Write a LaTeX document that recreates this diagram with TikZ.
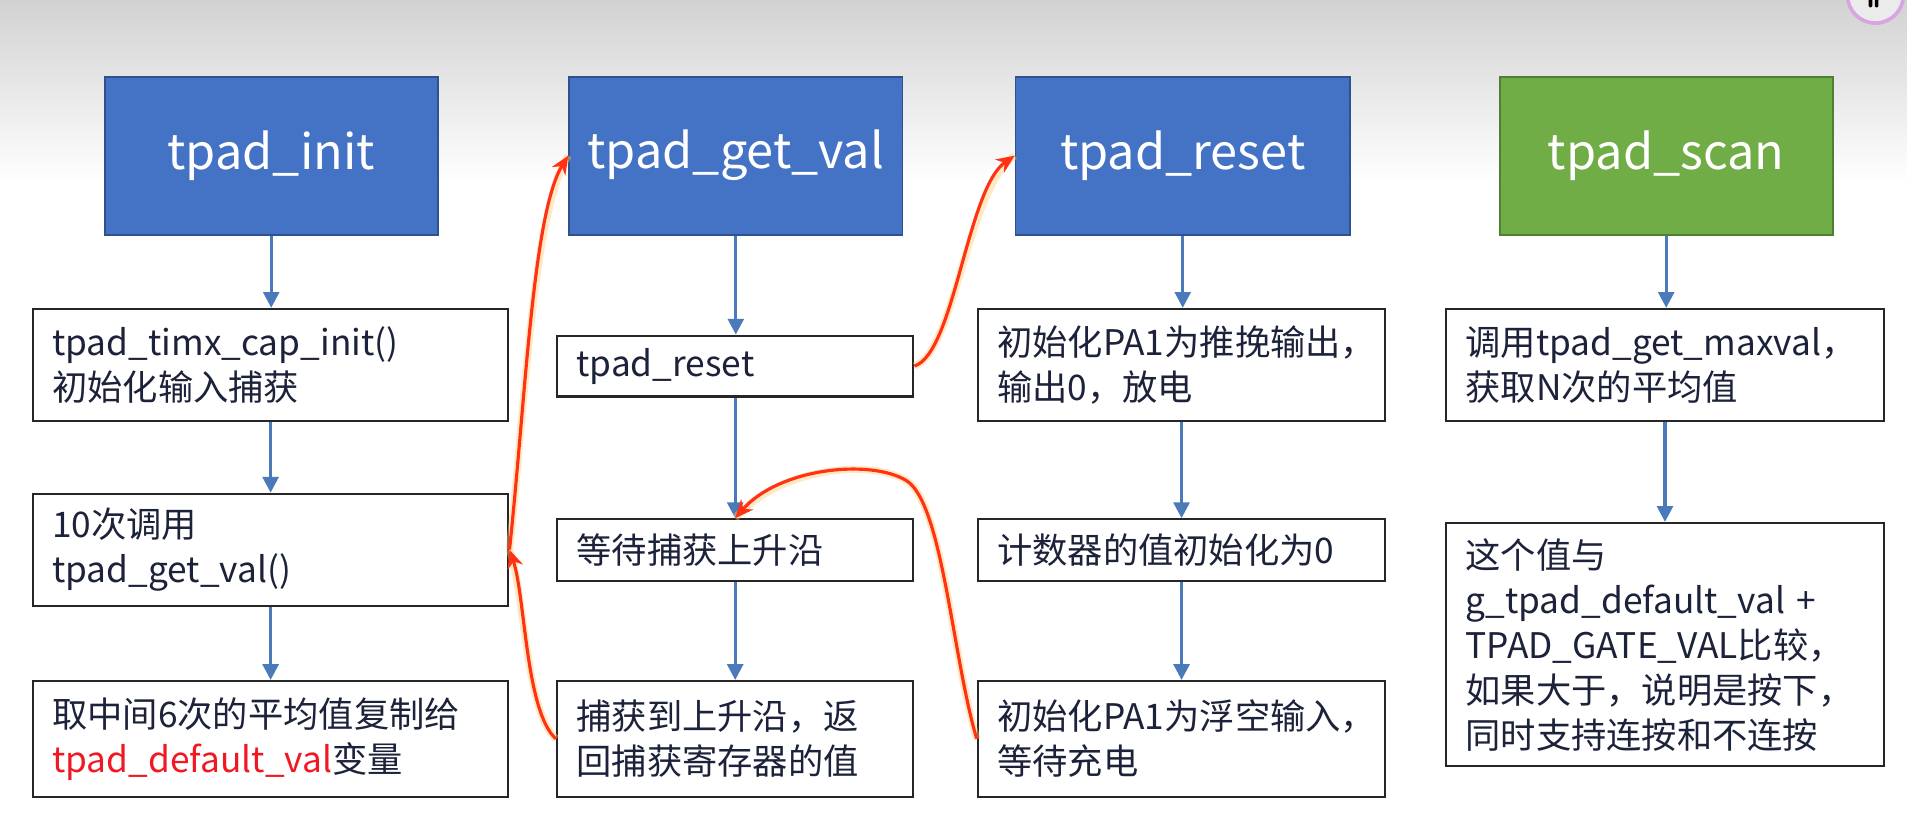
\documentclass[tikz,border=0pt]{standalone}
\usepackage{fontspec}
\setmainfont{Noto Sans CJK SC}
\usetikzlibrary{arrows.meta}
\definecolor{hdrblue}{RGB}{68,114,196}
\definecolor{hdrblueb}{RGB}{47,82,143}
\definecolor{hdrgreen}{RGB}{112,173,71}
\definecolor{hdrgreenb}{RGB}{80,126,50}
\definecolor{arrblue}{RGB}{74,122,186}
\definecolor{txt}{RGB}{28,34,58}
\definecolor{redl}{RGB}{255,50,20}
\definecolor{halo}{RGB}{255,205,120}
\definecolor{redtxt}{RGB}{240,25,35}
\definecolor{bgtop}{RGB}{210,210,210}
\definecolor{ringc}{RGB}{215,165,225}
\begin{document}
\begin{tikzpicture}[x=1pt,y=-1pt,
  hdr/.style={draw=hdrblueb, line width=1.5, fill=hdrblue, minimum width=274pt,
    minimum height=130pt, text=white, font=\fontsize{40}{48}\selectfont, inner sep=0pt},
  hdrg/.style={hdr, draw=hdrgreenb, fill=hdrgreen},
  bx/.style={draw=black!85, line width=1.8, fill=white, inner xsep=16pt, inner ysep=0pt,
    align=left, text=txt, font=\fontsize{29}{37}\selectfont},
  flow/.style={draw=arrblue, line width=2.6, -{Triangle[length=13pt,width=13pt]}},
  jump/.style={draw=redl, line width=2.6, -{Stealth[length=15pt,width=13pt]}},
  haloline/.style={draw=halo, line width=6, opacity=.45}
]
\useasboundingbox (0,0) rectangle (1568,685.7);
\fill[white] (0,0) rectangle (1568,685.7);
\shade[top color=bgtop, bottom color=white] (0,0) rectangle (1568,150);
% top-right icon
\draw[ringc, line width=3, fill=white!92!black] (1542,-4) circle (23);
\fill[black, rounded corners=1pt] (1536.5,-1) rectangle (1539.5,6);
\fill[black, rounded corners=1pt] (1541.5,-1) rectangle (1544.5,6);

% headers
\node[hdr] (h1) at (223,128) {tpad\_init};
\node[hdr] (h2) at (605,128) {tpad\_get\_val};
\node[hdr, minimum width=275pt] (h3) at (972.5,128) {tpad\_reset};
\node[hdrg] (h4) at (1370,128) {tpad\_scan};

% column 1
\node[bx, text width=359pt, minimum height=92pt] (a1) at (222.5,300)
  {tpad\_timx\_cap\_init()\\初始化输入捕获};
\node[bx, text width=359pt, minimum height=92pt] (a2) at (222.5,452)
  {10次调用\\tpad\_get\_val()};
\node[bx, text width=359pt, minimum height=95pt] (a3) at (222.5,607.5)
  {取中间6次的平均值复制给\\\textcolor{redtxt}{tpad\_default\_val}变量};
% column 2
\node[bx, text width=261pt, minimum height=50pt] (b1) at (604.5,301) {tpad\_reset};
\node[bx, text width=261pt, minimum height=51pt] (b2) at (604.5,452.5) {等待捕获上升沿};
\node[bx, text width=261pt, minimum height=95pt] (b3) at (604.5,607.5)
  {捕获到上升沿，返\\回捕获寄存器的值};
% column 3
\node[bx, text width=303pt, minimum height=92pt] (c1) at (971.5,300)
  {初始化PA1为推挽输出，\\输出0，放电};
\node[bx, text width=303pt, minimum height=51pt] (c2) at (971.5,452.5) {计数器的值初始化为0};
\node[bx, text width=303pt, minimum height=95pt] (c3) at (971.5,607.5)
  {初始化PA1为浮空输入，\\等待充电};
% column 4
\node[bx, text width=328pt, minimum height=92pt] (d1) at (1369,300)
  {调用tpad\_get\_maxval，\\获取N次的平均值};
\node[bx, text width=328pt, minimum height=200pt] (d2) at (1369,530)
  {这个值与\\g\_tpad\_default\_val +\\TPAD\_GATE\_VAL比较，\\如果大于，说明是按下，\\同时支持连按和不连按};

% blue flow arrows
\draw[flow] (h1.south) -- (h1.south |- a1.north);
\draw[flow] (a1.south) -- (a2.north);
\draw[flow] (a2.south) -- (a3.north);
\draw[flow] (h2.south) -- (h2.south |- b1.north);
\draw[flow] (b1.south) -- (b2.north);
\draw[flow] (b2.south) -- (b3.north);
\draw[flow] (h3.south) -- (h3.south |- c1.north);
\draw[flow] (c1.south) -- (c2.north);
\draw[flow] (c2.south) -- (c3.north);
\draw[flow] (h4.south) -- (h4.south |- d1.north);
\draw[flow] (d1.south) -- (d2.north);

% red call/return curves
\draw[haloline] (a2.east) .. controls (432,330) and (438,175) .. (h2.west);
\draw[jump] (a2.east) .. controls (432,330) and (438,175) .. (h2.west);
\draw[haloline] (b3.west) .. controls (432,585) and (432,490) .. (a2.east);
\draw[jump] (b3.west) .. controls (432,585) and (432,490) .. (a2.east);
\draw[haloline] (b1.east) .. controls (785,290) and (795,155) .. (h3.west);
\draw[jump] (b1.east) .. controls (785,290) and (795,155) .. (h3.west);
\draw[haloline] (c3.west) .. controls (783,540) and (775,413) .. (745,395)
  .. controls (715,377) and (640,385) .. (b2.north);
\draw[jump] (c3.west) .. controls (783,540) and (775,413) .. (745,395)
  .. controls (715,377) and (640,385) .. (b2.north);
\end{tikzpicture}
\end{document}
